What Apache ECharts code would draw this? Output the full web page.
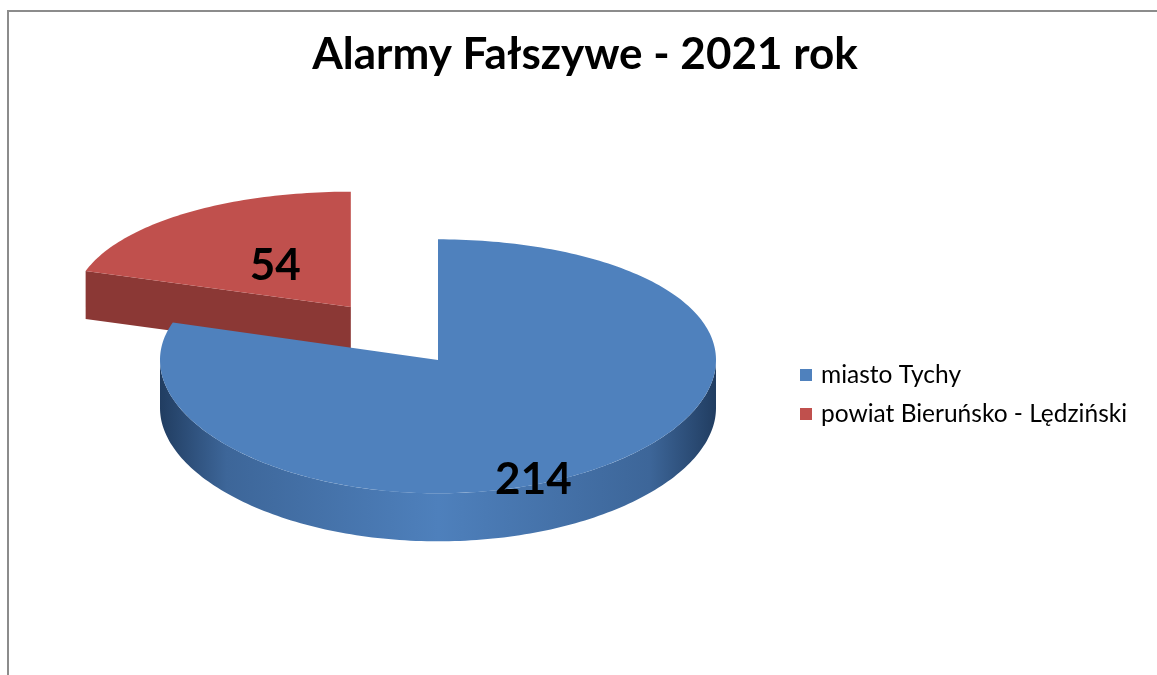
<!DOCTYPE html>
<html>
<head>
<meta charset="utf-8">
<title>Alarmy Fałszywe - 2021 rok</title>
<script src="https://cdn.jsdelivr.net/npm/echarts@6/dist/echarts.min.js"></script>
<style>
  html, body { margin: 0; padding: 0; background: #fff; }
  #chart { width: 1157px; height: 675px; }
</style>
</head>
<body>
<div id="chart"></div>
<script>
  // dane
  var chartTitle = 'Alarmy Fałszywe - 2021 rok'
  var categories = ['miasto Tychy', 'powiat Bieruńsko - Lędziński']
  var values = [214, 54]

  // wyglad (pseudo 3D)
  var topColors = ['#4F81BD', '#C0504D']
  var cutColors = ['#3A6294', '#8B3835']
  var explode = [0, 0.53]
  var labelPos = [[0.58, 1.12], [0.46, 0.43]]
  var cx = 438, cy = 360, rx = 278, ry = 127, persp = 0.05, depth = 48

  function project (u, v, dz) {
    return [cx + rx * u, cy + ry * v * (1 + persp * v) + dz]
  }

  function sliceAngles (idx) {
    var total = values.reduce(function (s, v) { return s + v }, 0)
    var before = 0
    for (var i = 0; i < idx; i++) before += values[i]
    var a0 = -Math.PI / 2 + before / total * Math.PI * 2
    return [a0, a0 + values[idx] / total * Math.PI * 2]
  }

  function arc (a0, a1, ou, ov, dz) {
    var pts = []
    var n = Math.max(2, Math.ceil(Math.abs(a1 - a0) / 0.02))
    for (var i = 0; i <= n; i++) {
      var a = a0 + (a1 - a0) * i / n
      pts.push(project(ou + Math.cos(a), ov + Math.sin(a), dz))
    }
    return pts
  }

  function sideGradient (ou, base) {
    var x0 = cx + rx * (ou - 1)
    var x1 = cx + rx * (ou + 1)
    var dark = base === 0 ? '#213D61' : '#6E2A28'
    var mid = base === 0 ? '#3D6699' : '#9A3E3B'
    var light = base === 0 ? '#4E80BC' : '#B24A47'
    return {
      type: 'linear', x: x0, y: 0, x2: x1, y2: 0, global: true,
      colorStops: [
        { offset: 0, color: dark },
        { offset: 0.12, color: mid },
        { offset: 0.5, color: light },
        { offset: 0.88, color: mid },
        { offset: 1, color: dark }
      ]
    }
  }

  function renderSlice (params, api) {
    var idx = params.seriesIndex
    var ang = sliceAngles(idx)
    var a0 = ang[0], a1 = ang[1]
    var mid = (a0 + a1) / 2
    var ou = explode[idx] * Math.cos(mid)
    var ov = explode[idx] * Math.sin(mid)
    var children = []

    // widoczna boczna sciana (przod elipsy)
    ;[[0, Math.PI], [2 * Math.PI, 3 * Math.PI], [-2 * Math.PI, -Math.PI]].forEach(function (r) {
      var s = Math.max(a0, r[0])
      var e = Math.min(a1, r[1])
      if (e > s) {
        var pts = arc(s, e, ou, ov, 0).concat(arc(e, s, ou, ov, depth))
        children.push({ type: 'polygon', shape: { points: pts }, style: { fill: sideGradient(ou, idx) } })
      }
    })

    // sciany przekroju
    var c0 = project(ou, ov, 0)
    var c1 = project(ou, ov, depth)
    if (Math.cos(a0) < -0.01) {
      var p0 = project(ou + Math.cos(a0), ov + Math.sin(a0), 0)
      var p1 = project(ou + Math.cos(a0), ov + Math.sin(a0), depth)
      children.push({ type: 'polygon', shape: { points: [c0, p0, p1, c1] }, style: { fill: cutColors[idx] } })
    }
    if (Math.cos(a1) > 0.01) {
      var q0 = project(ou + Math.cos(a1), ov + Math.sin(a1), 0)
      var q1 = project(ou + Math.cos(a1), ov + Math.sin(a1), depth)
      children.push({ type: 'polygon', shape: { points: [c0, q0, q1, c1] }, style: { fill: cutColors[idx] } })
    }

    // wierzch
    children.push({
      type: 'polygon',
      shape: { points: [c0].concat(arc(a0, a1, ou, ov, 0)) },
      style: { fill: topColors[idx] }
    })

    // etykieta
    var lp = project(ou + labelPos[idx][0] * Math.cos(mid), ov + labelPos[idx][1] * Math.sin(mid), 0)
    children.push({
      type: 'text',
      style: {
        text: String(api.value(0)),
        x: lp[0], y: lp[1],
        fill: '#000',
        font: 'bold 44px Lato',
        align: 'center',
        verticalAlign: 'middle'
      }
    })

    return { type: 'group', children: children }
  }

  var chart = echarts.init(document.getElementById('chart'), null, { renderer: 'canvas' })

  chart.setOption({
    backgroundColor: '#fff',
    animation: false,
    title: {
      text: chartTitle,
      left: 580,
      top: 28,
      textAlign: 'center',
      textStyle: { fontFamily: 'Lato', fontWeight: 'bold', fontSize: 44, color: '#000' }
    },
    legend: {
      orient: 'vertical',
      left: 800,
      top: 361,
      padding: 0,
      icon: 'rect',
      itemWidth: 12,
      itemHeight: 12,
      itemGap: 11,
      data: categories,
      textStyle: { fontFamily: 'Lato', fontSize: 24.5, color: '#000', lineHeight: 28, padding: [0, 0, 0, 4] }
    },
    graphic: [{
      type: 'rect',
      silent: true,
      shape: { x: 8, y: 11, width: 1400, height: 900 },
      style: { fill: 'none', stroke: '#8C8C8C', lineWidth: 2 }
    }],
    series: categories.map(function (name, i) {
      return {
        type: 'custom',
        name: name,
        coordinateSystem: 'none',
        z: i === 0 ? 3 : 2,
        itemStyle: { color: topColors[i] },
        renderItem: renderSlice,
        data: [values[i]]
      }
    })
  })
</script>
</body>
</html>
